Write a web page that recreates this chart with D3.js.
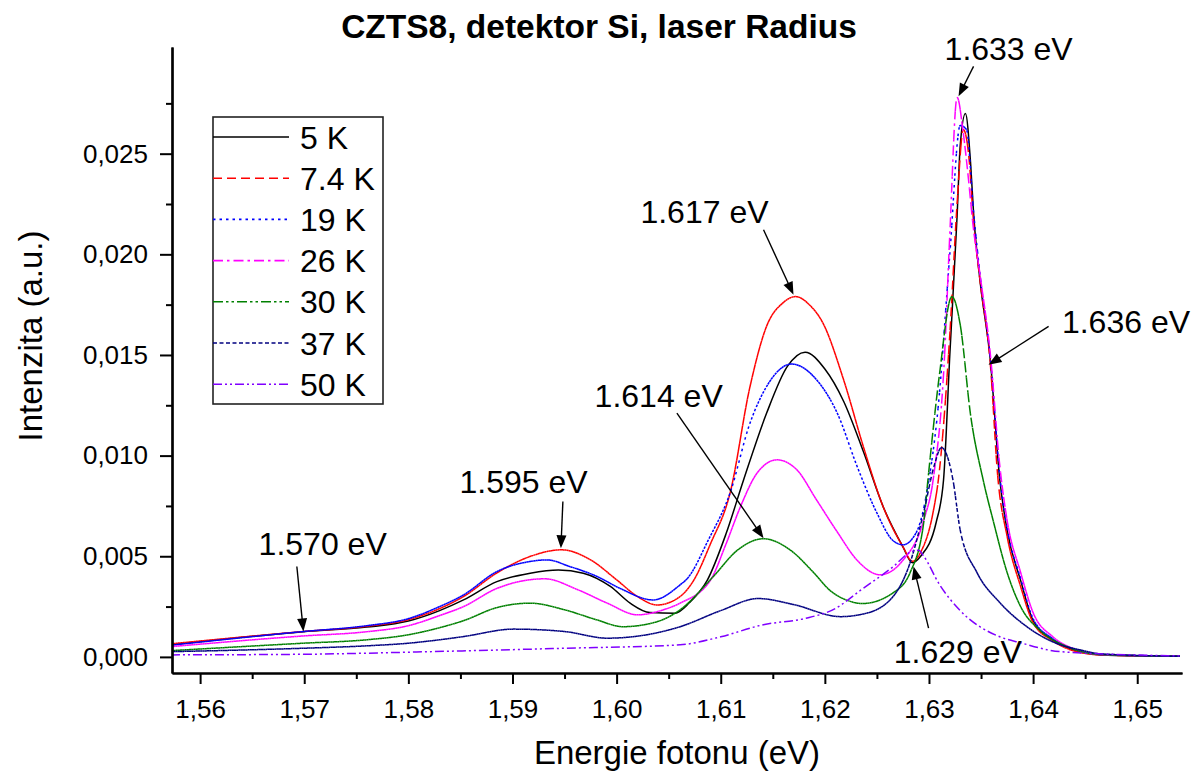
<!DOCTYPE html>
<html>
<head>
<meta charset="utf-8">
<script src="https://cdn.jsdelivr.net/npm/d3@7"></script>
<style>
  html, body { margin: 0; padding: 0; background: #fff; }
  svg { display: block; font-family: "Liberation Sans", Arial, sans-serif; }
</style>
</head>
<body>
<svg id="chart" width="1198" height="773"></svg>
<script>
// Photoluminescence spectra, sample CZTS8, Si detector: [energy (eV), intensity (a.u.)]
const s5K = [[1.5572,0.00060],[1.5699,0.00125],[1.5760,0.00148],[1.5800,0.00178],[1.5830,0.00230],[1.5853,0.00283],[1.5885,0.00374],[1.5917,0.00416],[1.5944,0.00432],[1.5968,0.00416],[1.5994,0.00350],[1.6013,0.00267],[1.6032,0.00220],[1.6056,0.00217],[1.6070,0.00270],[1.6087,0.00380],[1.6105,0.00610],[1.6122,0.00880],[1.6144,0.01210],[1.6164,0.01443],[1.6181,0.01514],[1.6200,0.01430],[1.6218,0.01270],[1.6237,0.01020],[1.6256,0.00746],[1.6275,0.00547],[1.6284,0.00468],[1.6292,0.00500],[1.6307,0.00670],[1.6314,0.00880],[1.6320,0.01500],[1.6327,0.02190],[1.6330,0.02540],[1.6335,0.02700],[1.6340,0.02450],[1.6343,0.02190],[1.6349,0.01870],[1.6359,0.01470],[1.6368,0.00880],[1.6375,0.00630],[1.6388,0.00380],[1.6400,0.00180],[1.6419,0.00085],[1.6439,0.00035],[1.6465,0.00010],[1.6541,0.00003]];
const s7_4K = [[1.5572,0.00065],[1.5699,0.00126],[1.5760,0.00152],[1.5800,0.00185],[1.5830,0.00240],[1.5853,0.00300],[1.5885,0.00417],[1.5917,0.00499],[1.5947,0.00532],[1.5975,0.00482],[1.6000,0.00383],[1.6020,0.00300],[1.6039,0.00258],[1.6061,0.00300],[1.6074,0.00380],[1.6090,0.00560],[1.6109,0.00815],[1.6128,0.01340],[1.6144,0.01642],[1.6160,0.01760],[1.6172,0.01790],[1.6185,0.01750],[1.6198,0.01660],[1.6218,0.01377],[1.6237,0.01044],[1.6256,0.00746],[1.6275,0.00547],[1.6284,0.00475],[1.6292,0.00520],[1.6304,0.00720],[1.6309,0.00880],[1.6320,0.01600],[1.6327,0.02250],[1.6333,0.02620],[1.6338,0.02500],[1.6343,0.02150],[1.6349,0.01870],[1.6359,0.01450],[1.6366,0.00900],[1.6375,0.00600],[1.6388,0.00350],[1.6400,0.00170],[1.6419,0.00080],[1.6439,0.00030],[1.6465,0.00010],[1.6541,0.00003]];
const s19K = [[1.5572,0.00058],[1.5699,0.00126],[1.5760,0.00155],[1.5800,0.00190],[1.5830,0.00250],[1.5853,0.00308],[1.5885,0.00424],[1.5917,0.00474],[1.5933,0.00482],[1.5955,0.00449],[1.5981,0.00400],[1.6003,0.00341],[1.6035,0.00283],[1.6061,0.00358],[1.6068,0.00390],[1.6088,0.00580],[1.6109,0.00815],[1.6128,0.01160],[1.6144,0.01343],[1.6168,0.01455],[1.6192,0.01377],[1.6212,0.01210],[1.6231,0.00946],[1.6250,0.00715],[1.6265,0.00580],[1.6275,0.00557],[1.6288,0.00620],[1.6299,0.00850],[1.6309,0.01250],[1.6320,0.02000],[1.6330,0.02640],[1.6336,0.02620],[1.6343,0.02200],[1.6349,0.01900],[1.6359,0.01480],[1.6368,0.00900],[1.6375,0.00640],[1.6388,0.00390],[1.6400,0.00190],[1.6419,0.00090],[1.6439,0.00040],[1.6465,0.00012],[1.6541,0.00003]];
const s26K = [[1.5572,0.00051],[1.5699,0.00104],[1.5760,0.00125],[1.5800,0.00155],[1.5830,0.00205],[1.5853,0.00250],[1.5885,0.00340],[1.5931,0.00388],[1.5963,0.00333],[1.5991,0.00267],[1.6020,0.00209],[1.6045,0.00234],[1.6061,0.00267],[1.6090,0.00380],[1.6105,0.00560],[1.6119,0.00747],[1.6135,0.00914],[1.6154,0.00979],[1.6173,0.00930],[1.6192,0.00780],[1.6212,0.00620],[1.6231,0.00480],[1.6253,0.00408],[1.6275,0.00480],[1.6295,0.00680],[1.6304,0.00880],[1.6315,0.01500],[1.6320,0.02100],[1.6327,0.02780],[1.6333,0.02600],[1.6338,0.02370],[1.6342,0.02160],[1.6349,0.01900],[1.6359,0.01500],[1.6368,0.00950],[1.6375,0.00680],[1.6388,0.00420],[1.6400,0.00220],[1.6419,0.00100],[1.6439,0.00040],[1.6465,0.00012],[1.6541,0.00003]];
const s30K = [[1.5572,0.00031],[1.5699,0.00068],[1.5760,0.00085],[1.5800,0.00110],[1.5830,0.00145],[1.5853,0.00180],[1.5885,0.00245],[1.5917,0.00267],[1.5950,0.00234],[1.5981,0.00184],[1.6006,0.00150],[1.6039,0.00175],[1.6061,0.00234],[1.6093,0.00400],[1.6116,0.00530],[1.6141,0.00587],[1.6167,0.00530],[1.6189,0.00420],[1.6205,0.00330],[1.6222,0.00280],[1.6236,0.00265],[1.6266,0.00320],[1.6282,0.00420],[1.6295,0.00670],[1.6299,0.00880],[1.6310,0.01400],[1.6322,0.01790],[1.6330,0.01650],[1.6340,0.01200],[1.6352,0.00880],[1.6362,0.00670],[1.6375,0.00420],[1.6388,0.00250],[1.6407,0.00130],[1.6433,0.00050],[1.6465,0.00012],[1.6541,0.00003]];
const s37K = [[1.5572,0.00026],[1.5699,0.00043],[1.5760,0.00055],[1.5800,0.00068],[1.5830,0.00085],[1.5853,0.00101],[1.5901,0.00138],[1.5950,0.00126],[1.5991,0.00093],[1.6029,0.00110],[1.6061,0.00150],[1.6100,0.00230],[1.6136,0.00290],[1.6170,0.00260],[1.6215,0.00200],[1.6234,0.00210],[1.6260,0.00270],[1.6282,0.00470],[1.6295,0.00720],[1.6305,0.00950],[1.6312,0.01040],[1.6318,0.00990],[1.6323,0.00880],[1.6330,0.00630],[1.6346,0.00420],[1.6368,0.00270],[1.6394,0.00150],[1.6426,0.00060],[1.6445,0.00035],[1.6465,0.00015],[1.6541,0.00003]];
const s50K = [[1.5572,0.00010],[1.5699,0.00013],[1.5821,0.00026],[1.5950,0.00043],[1.6061,0.00060],[1.6100,0.00100],[1.6141,0.00160],[1.6180,0.00190],[1.6210,0.00240],[1.6234,0.00330],[1.6266,0.00450],[1.6282,0.00520],[1.6290,0.00530],[1.6295,0.00500],[1.6310,0.00360],[1.6330,0.00230],[1.6368,0.00100],[1.6388,0.00070],[1.6426,0.00026],[1.6541,0.00005]];

const temperatures = ["5 K", "7.4 K", "19 K", "26 K", "30 K", "37 K", "50 K"];
const spectra = [s5K, s7_4K, s19K, s26K, s30K, s37K, s50K];

// Tick values
const xMajorTicks = [1.56, 1.57, 1.58, 1.59, 1.60, 1.61, 1.62, 1.63, 1.64, 1.65];
const xMinorTicks = [1.565, 1.575, 1.585, 1.595, 1.605, 1.615, 1.625, 1.635, 1.645];
const yMajorTicks = [0, 0.005, 0.010, 0.015, 0.020, 0.025];
const yMinorTicks = [0.0025, 0.0075, 0.0125, 0.0175, 0.0225, 0.0275];

// Peak annotations: label, text anchor, arrow start, arrow tip (data units)
const peakLabels = ["1.570 eV", "1.595 eV", "1.617 eV", "1.614 eV", "1.633 eV", "1.636 eV", "1.629 eV"];
const labelAt  = [[1.57177, 0.00507], [1.59106, 0.00815], [1.60844, 0.02157], [1.60404, 0.01243], [1.63765, 0.02967], [1.64892, 0.01610], [1.63277, -0.00031]];
const arrowFrom = [[1.56929, 0.00449], [1.59484, 0.00772], [1.61411, 0.02122], [1.60579, 0.01211], [1.63428, 0.02934], [1.64149, 0.01642], [1.62996, 0.00143]];
const arrowTo   = [[1.56992, 0.00126], [1.59465, 0.00540], [1.61699, 0.01799], [1.61411, 0.00590], [1.63284, 0.02785], [1.63572, 0.01451], [1.62852, 0.00449]];

// Line styles per temperature
const colors = ["#000000", "#ff0000", "#0000ff", "#ff00ff", "#008000", "#000080", "#8000ff"];
const dashes = [null, "9,5", "2.5,4", "10,4,2.5,4", "10,3,2.5,3,2.5,3", "4,2.5", "9,3,2,3,2,3"];
const restartDash = [true, true, true, true, true, true, false];

const svg = d3.select("#chart");
const plot = { left: 172, right: 1182, top: 47, bottom: 673 };

const x = d3.scaleLinear().domain([1.5573, 1.6543]).range([plot.left, plot.right]);
const y = d3.scaleLinear().domain([-0.0008, 0.0303]).range([plot.bottom, plot.top]);

svg.append("defs").append("clipPath").attr("id", "plotClip")
  .append("rect")
  .attr("x", plot.left).attr("y", plot.top)
  .attr("width", plot.right - plot.left).attr("height", plot.bottom - plot.top);

// Spectra
const line = d3.line().x(d => x(d[0])).y(d => y(d[1])).curve(d3.curveMonotoneX);
const gLines = svg.append("g").attr("clip-path", "url(#plotClip)");

// Dashed lines restart their pattern at every short piece of the trace,
// so flat stretches read as solid and steep flanks show the dashes.
const STEP = 1.5;
spectra.forEach((data, i) => {
  const d = line(data);
  const style = sel => sel.attr("fill", "none").attr("stroke", colors[i])
    .attr("stroke-width", 1.5).attr("stroke-linejoin", "round");
  if (!dashes[i] || !restartDash[i]) {
    const p = gLines.append("path").attr("d", d).call(style);
    if (dashes[i]) p.attr("stroke-dasharray", dashes[i]);
    return;
  }
  const tmp = gLines.append("path").attr("d", d).attr("fill", "none").attr("stroke", "none");
  const node = tmp.node();
  const L = node.getTotalLength();
  const pts = [];
  for (let l = 0; l <= L; l += 0.75) pts.push(node.getPointAtLength(l));
  pts.push(node.getPointAtLength(L));
  tmp.remove();
  const pieces = [];
  let cur = [pts[0]], x0 = pts[0].x;
  for (let k = 1; k < pts.length; k++) {
    const p = pts[k];
    cur.push(p);
    if (p.x - x0 >= STEP) { pieces.push(cur); cur = [p]; x0 = p.x; }
  }
  if (cur.length > 1) pieces.push(cur);
  const g = gLines.append("g");
  g.selectAll("path").data(pieces).join("path")
    .attr("d", c => "M" + c.map(p => p.x.toFixed(2) + "," + p.y.toFixed(2)).join("L"))
    .call(style)
    .attr("stroke-dasharray", dashes[i]);
});

// Axes
const fmt = d => d3.format(".2f")(d).replace(".", ",");
const fmtY = d => d3.format(".3f")(d).replace(".", ",");

svg.append("g").attr("transform", `translate(0,${plot.bottom})`)
  .call(d3.axisBottom(x).tickValues(xMajorTicks).tickFormat(fmt).tickSize(11).tickSizeOuter(0).tickPadding(16));
svg.append("g").attr("transform", `translate(0,${plot.bottom})`)
  .call(d3.axisBottom(x).tickValues(xMinorTicks).tickFormat("").tickSize(6).tickSizeOuter(0));
svg.append("g").attr("transform", `translate(${plot.left},0)`)
  .call(d3.axisLeft(y).tickValues(yMajorTicks).tickFormat(fmtY).tickSize(12).tickSizeOuter(0).tickPadding(12));
svg.append("g").attr("transform", `translate(${plot.left},0)`)
  .call(d3.axisLeft(y).tickValues(yMinorTicks).tickFormat("").tickSize(6).tickSizeOuter(0));

svg.selectAll(".domain").attr("stroke", "#000").attr("stroke-width", 2.2);
svg.selectAll(".tick line").attr("stroke", "#000").attr("stroke-width", 2);
svg.selectAll(".tick text").attr("font-family", "Liberation Sans, Arial, sans-serif")
  .attr("font-size", 26).attr("fill", "#000");

// Titles
svg.append("text").attr("x", 599).attr("y", 38).attr("text-anchor", "middle")
  .attr("font-size", 33.5).attr("font-weight", "bold").text("CZTS8, detektor Si, laser Radius");
svg.append("text").attr("x", (plot.left + plot.right) / 2).attr("y", 764).attr("text-anchor", "middle")
  .attr("font-size", 33).text("Energie fotonu (eV)");
svg.append("text").attr("transform", "translate(42,336) rotate(-90)").attr("text-anchor", "middle")
  .attr("font-size", 33).text("Intenzita (a.u.)");

// Peak annotations
const gAnn = svg.append("g");
peakLabels.forEach((label, i) => {
  gAnn.append("text").attr("x", x(labelAt[i][0])).attr("y", y(labelAt[i][1]))
    .attr("text-anchor", "middle").attr("font-size", 32).text(label);
  const sx = x(arrowFrom[i][0]), sy = y(arrowFrom[i][1]);
  const tx = x(arrowTo[i][0]), ty = y(arrowTo[i][1]);
  const len = Math.hypot(tx - sx, ty - sy);
  const ux = (tx - sx) / len, uy = (ty - sy) / len;
  const head = 13, half = 5;
  const bx = tx - ux * head, by = ty - uy * head;
  gAnn.append("line").attr("x1", sx).attr("y1", sy).attr("x2", bx + ux * 2).attr("y2", by + uy * 2)
    .attr("stroke", "#000").attr("stroke-width", 1.4);
  gAnn.append("path")
    .attr("d", `M${tx},${ty}L${bx - uy * half},${by + ux * half}L${bx + uy * half},${by - ux * half}Z`)
    .attr("fill", "#000");
});

// Legend
const legend = svg.append("g");
const lg = { x0: 213, x1: 383, y0: 117, y1: 404, rowY: 137, rowH: 41.2, sample: 76 };
legend.append("rect").attr("x", lg.x0).attr("y", lg.y0)
  .attr("width", lg.x1 - lg.x0).attr("height", lg.y1 - lg.y0)
  .attr("fill", "#fff").attr("stroke", "#222").attr("stroke-width", 1.6);
temperatures.forEach((t, i) => {
  const yy = lg.rowY + i * lg.rowH;
  const l = legend.append("line").attr("x1", lg.x0).attr("x2", lg.x0 + lg.sample)
    .attr("y1", yy).attr("y2", yy).attr("stroke", colors[i]).attr("stroke-width", 1.6);
  if (dashes[i]) l.attr("stroke-dasharray", dashes[i]);
  legend.append("text").attr("x", lg.x0 + 87).attr("y", yy + 11.5)
    .attr("font-size", 32).text(t);
});
</script>
</body>
</html>
